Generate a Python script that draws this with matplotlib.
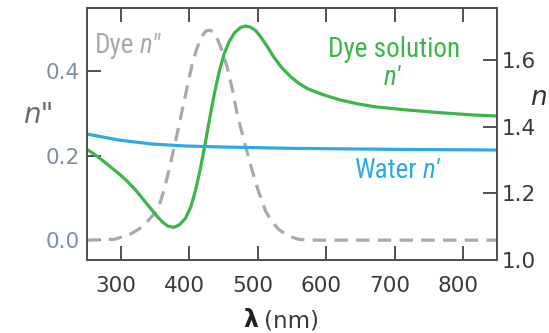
import matplotlib
matplotlib.use("Agg")
import matplotlib.pyplot as plt
from matplotlib import font_manager
from matplotlib.transforms import ScaledTranslation

# ---- data ----
dye_wl = [250, 290, 311, 325, 336, 346, 355, 363, 370, 380, 387, 395, 403, 410, 418,
          424, 430, 437, 445, 455, 463, 470, 480, 489, 500, 511, 520, 530, 538, 548,
          560, 575, 700, 850]
dye_n2 = [0.0, 0.002, 0.012, 0.025, 0.04, 0.058, 0.079, 0.12, 0.166, 0.237, 0.29,
          0.35, 0.41, 0.45, 0.482, 0.495, 0.497, 0.49, 0.46, 0.41, 0.355, 0.296,
          0.235, 0.18, 0.12, 0.07, 0.045, 0.026, 0.017, 0.008, 0.002, 0.0, 0.0, 0.0]

sol_wl = [250, 261, 272, 284, 296, 309, 321, 333, 345, 353, 360, 368, 377, 385, 394,
          402, 409, 416, 423, 430, 437, 444, 451, 458, 466, 475, 482, 489, 497, 504,
          514, 523, 535, 548, 560, 572, 585, 597, 621, 645, 670, 719, 767, 816, 850]
sol_n1 = [1.332, 1.317, 1.30, 1.28, 1.26, 1.236, 1.21, 1.18, 1.15, 1.13, 1.115,
          1.102, 1.098, 1.105, 1.125, 1.16, 1.21, 1.275, 1.35, 1.43, 1.505, 1.57,
          1.62, 1.655, 1.682, 1.698, 1.702, 1.699, 1.688, 1.67, 1.64, 1.61, 1.577,
          1.55, 1.53, 1.515, 1.504, 1.495, 1.48, 1.469, 1.46, 1.45, 1.442, 1.435,
          1.432]

wat_wl = [250, 296, 345, 394, 450, 500, 550, 600, 700, 850]
wat_n1 = [1.378, 1.36, 1.348, 1.342, 1.339, 1.337, 1.335, 1.334, 1.332, 1.330]

x_ticks = [300, 400, 500, 600, 700, 800]
left_ticks = [0.0, 0.2, 0.4]
right_ticks = [1.0, 1.2, 1.4, 1.6]

# ---- fonts ----
plt.rcParams['font.family'] = ['DejaVu Sans']
ttf = font_manager.fontManager.ttflist
names = {f.name for f in ttf}
cond = None
cstretch = 'normal'
for cand in ['Liberation Sans Narrow', 'Roboto Condensed', 'Open Sans Condensed',
             'DejaVu Sans Condensed', 'Noto Sans Condensed']:
    if cand in names:
        cond = cand
        break
if cond is None:
    for f in ttf:
        st = f.stretch
        if (isinstance(st, str) and 'condensed' in st) or (isinstance(st, int) and st < 500):
            if f.style == 'normal' and f.weight in (400, 'normal', 'regular'):
                cond = f.name
                cstretch = 'condensed'
                break
if cond is None:
    cond = 'Liberation Sans'
CF = dict(family=[cond, 'DejaVu Sans'], stretch=cstretch)

GREEN = '#3db54a'
BLUE = '#2ea9e3'
GRAY = '#a9a9ab'
SPINE = '#505050'
LTICK = '#7f8fa3'
DARK = '#3a3a3a'
TFS = 15.5
AFS = 19.5

W, H = 549, 333
fig = plt.figure(figsize=(W / 100, H / 100), dpi=100)
ax = fig.add_axes([87 / W, (H - 260) / H, (497 - 87) / W, (260 - 7.7) / H])
ax2 = ax.twinx()

ax.set_xlim(250, 850)
ax.set_ylim(-0.047, 0.55)
ax2.set_ylim(1.0, 1.757)

ax.plot(dye_wl, dye_n2, color=GRAY, lw=2.3, dashes=(4.2, 2.6), solid_capstyle='butt')
ax2.plot(sol_wl, sol_n1, color=GREEN, lw=2.3, solid_joinstyle='round')
ax2.plot(wat_wl, wat_n1, color=BLUE, lw=2.3, solid_joinstyle='round')

for a in (ax, ax2):
    for s in a.spines.values():
        s.set_color(SPINE)
        s.set_linewidth(1.4)

ax.set_xticks(x_ticks)
ax.set_xticklabels([str(v) for v in x_ticks])
ax.set_yticks(left_ticks)
ax.set_yticklabels(['%.1f' % v for v in left_ticks])
ax2.set_yticks(right_ticks)
ax2.set_yticklabels(['%.1f' % v for v in right_ticks])

ax.tick_params(axis='x', direction='in', length=10, width=1.4, color=SPINE,
               labelsize=TFS, labelcolor=DARK, top=True, pad=11.5)
ax.tick_params(axis='y', direction='in', length=10, width=1.4, color=SPINE,
               labelsize=TFS, labelcolor=LTICK, pad=5)
ax2.tick_params(axis='y', direction='in', length=10, width=1.4, color=SPINE,
                labelsize=TFS, labelcolor=DARK, pad=3.5)

shift = ScaledTranslation(-5 / 100, 0, fig.dpi_scale_trans)
for lab in ax.get_xticklabels():
    lab.set_transform(lab.get_transform() + shift)

def fx(px):
    return px / W

def fy(py):
    return 1 - py / H

fig.text(fx(243), fy(327), 'λ', fontsize=17, color='#222222', fontweight='bold',
         ha='left', va='baseline')
fig.text(fx(264), fy(327), '(nm)', fontsize=16.5, color=DARK, ha='left', va='baseline')

fig.text(fx(23), fy(123), 'n"', fontsize=20, color='#6b6b6b', style='italic',
         ha='left', va='baseline')
fig.text(fx(530), fy(105), 'n', fontsize=19, color='#333333', style='italic',
         ha='left', va='baseline')

fig.text(fx(95), fy(53), 'Dye', fontsize=AFS, color=GRAY, ha='left', va='baseline', **CF)
fig.text(fx(140), fy(53), 'n"', fontsize=AFS, color=GRAY, style='italic',
         ha='left', va='baseline', **CF)
fig.text(fx(394), fy(57), 'Dye solution', fontsize=AFS, color=GREEN,
         ha='center', va='baseline', **CF)
fig.text(fx(392), fy(85), "n'", fontsize=AFS, color=GREEN, style='italic',
         ha='center', va='baseline', **CF)
fig.text(fx(385), fy(178), 'Water', fontsize=AFS, color=BLUE,
         ha='center', va='baseline', **CF)
fig.text(fx(423), fy(178), "n'", fontsize=AFS, color=BLUE, style='italic',
         ha='left', va='baseline', **CF)

fig.savefig('out.png', dpi=100)
